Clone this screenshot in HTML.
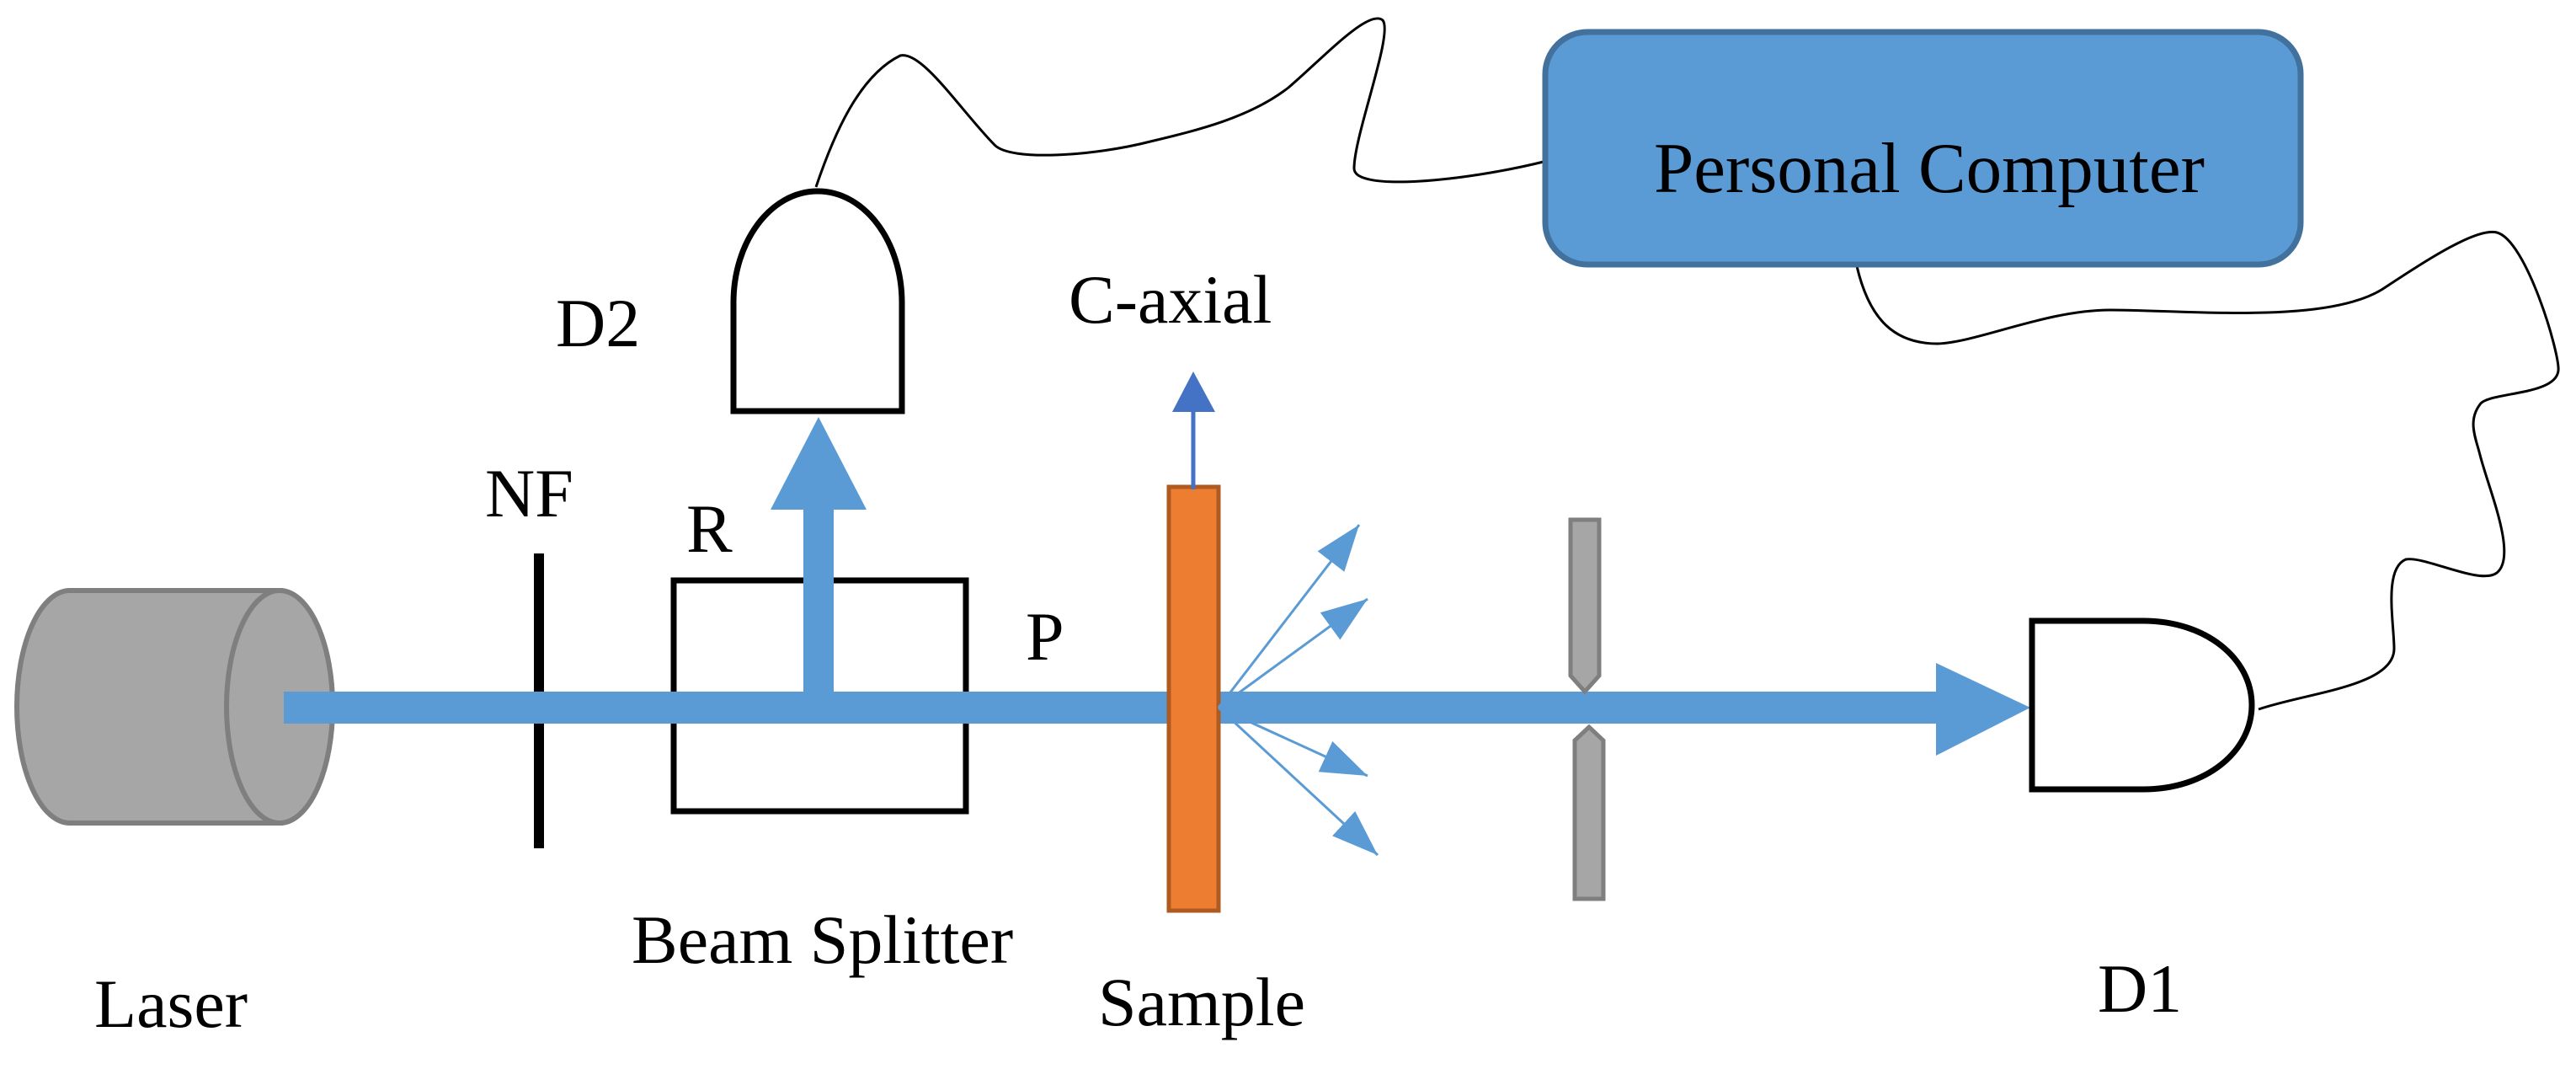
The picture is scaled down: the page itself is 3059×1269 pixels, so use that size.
<!DOCTYPE html>
<html><head><meta charset="utf-8"><style>
html,body{margin:0;padding:0;background:#fff;}
svg{display:block;}
text{font-family:"Liberation Serif",serif;font-size:82px;fill:#000;}
</style></head><body>
<svg width="3059" height="1269" viewBox="0 0 3059 1269" xmlns="http://www.w3.org/2000/svg">
<defs>
<marker id="sa" markerUnits="userSpaceOnUse" markerWidth="60" markerHeight="50" refX="55" refY="20" orient="auto">
<polygon points="0,0 55,20 0,40" fill="#5B9BD5"/></marker>
</defs>
<!-- wires -->
<path d="M969,222 C990,160 1020,90 1069,66 C1095,60 1140,130 1181,172 C1200,192 1300,185 1366,168 C1420,155 1484,140 1530,104 C1570,70 1625,10 1642,24 C1655,40 1608,160 1608,200 C1608,228 1740,215 1833,192" fill="none" stroke="#000" stroke-width="3"/>
<path d="M2205,316 C2220,380 2250,408 2301,408 C2350,406 2430,368 2506,368 C2600,368 2760,385 2828,344 C2880,310 2940,270 2965,276 C3000,285 3040,420 3038,440 C3035,470 2955,465 2945,480 C2930,500 2940,520 2945,540 C2955,580 2990,660 2965,680 C2945,695 2880,660 2857,664 C2830,675 2843,740 2843,770 C2843,815 2740,822 2682,842" fill="none" stroke="#000" stroke-width="3"/>
<!-- PC -->
<rect x="1835" y="38" width="897" height="276" rx="50" fill="#5B9BD5" stroke="#41719C" stroke-width="7"/>
<text x="1964" y="228" style="font-size:85px">Personal Computer</text>
<g transform="translate(0,7)">
<!-- laser -->
<path d="M83,694 L332,694 A63,138 0 0 1 332,970 L83,970 A63,138 0 0 1 83,694 Z" fill="#A6A6A6" stroke="#7F7F7F" stroke-width="6"/>
<ellipse cx="332" cy="832" rx="63" ry="138" fill="#A6A6A6" stroke="#7F7F7F" stroke-width="6"/>
<!-- NF -->
<rect x="634" y="650" width="12" height="350" fill="#000"/>
<!-- BS box -->
<rect x="800" y="682" width="347" height="274" fill="none" stroke="#000" stroke-width="7"/>
<!-- D2 -->
<path d="M871,481 L871,352 C871,280 915,220 971,220 C1027,220 1071,280 1071,352 L1071,481 Z" fill="none" stroke="#000" stroke-width="7"/>
<!-- vertical arrow -->
<rect x="954" y="596" width="36" height="237" fill="#5B9BD5"/>
<polygon points="915,598 1029,598 972,488" fill="#5B9BD5"/>
<!-- main beam -->
<rect x="337" y="814" width="1964" height="38" fill="#5B9BD5"/>
<polygon points="2299,780 2411,833 2299,890" fill="#5B9BD5"/>
<!-- sample -->
<rect x="1388" y="571" width="59" height="503" fill="#ED7D31" stroke="#AE5A21" stroke-width="5"/>
<!-- c-axis arrow -->
<rect x="1414.5" y="478" width="5" height="96" fill="#4472C4"/>
<polygon points="1392,482 1443,482 1417,434" fill="#4472C4"/>
<!-- scatter -->
<g stroke="#5B9BD5" stroke-width="3" fill="none" marker-end="url(#sa)">
<line x1="1447" y1="833" x2="1614" y2="616"/>
<line x1="1447" y1="833" x2="1624" y2="704"/>
<line x1="1447" y1="833" x2="1624" y2="914"/>
<line x1="1447" y1="833" x2="1636" y2="1008"/>
</g>
<!-- aperture -->
<path d="M1865,610 L1899,610 L1899,795 L1882,814 L1865,795 Z" fill="#A6A6A6" stroke="#7F7F7F" stroke-width="5"/>
<path d="M1870,872 L1887,856 L1904,872 L1904,1060 L1870,1060 Z" fill="#A6A6A6" stroke="#7F7F7F" stroke-width="5"/>
<!-- D1 -->
<path d="M2413,730 L2545,730 C2620,730 2674,775 2674,830 C2674,885 2620,930 2545,930 L2413,930 Z" fill="none" stroke="#000" stroke-width="7"/>
<!-- labels -->
<text x="576" y="606">NF</text>
<text x="815" y="648">R</text>
<text x="660" y="404">D2</text>
<text x="1269" y="376">C-axial</text>
<text x="1218" y="776">P</text>
<text x="750" y="1136">Beam Splitter</text>
<text x="112" y="1212">Laser</text>
<text x="1304" y="1210">Sample</text>
<text x="2491" y="1194">D1</text>
</g>
</svg>
</body></html>
